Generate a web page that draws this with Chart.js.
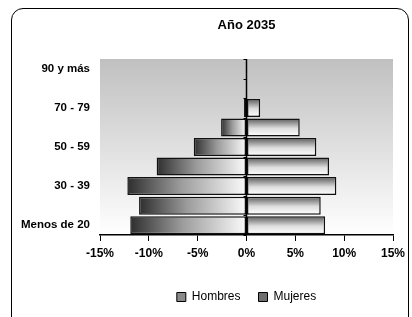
<!DOCTYPE html>
<html>
<head>
<meta charset="utf-8">
<script src="https://cdn.jsdelivr.net/npm/chart.js@4"></script>
<style>
  html, body { margin: 0; padding: 0; background: #fff; overflow: hidden; }
  #wrap { position: relative; width: 412px; height: 317px; }
  #frame { position: absolute; left: 11px; top: 8px; width: 396px; height: 330px;
           border: 1.5px solid #000; border-radius: 12px; pointer-events: none; }
  canvas { position: absolute; left: 0; top: 0; }
</style>
</head>
<body>
<div id="wrap">
  <canvas id="pyramid" width="412" height="317"></canvas>
  <div id="frame"></div>
</div>
<script>
// datos (porcentaje de población por grupo de edad)
const grupos = ['Menos de 20', '20 - 29', '30 - 39', '40 - 49', '50 - 59', '60 - 69', '70 - 79', '80 - 89', '90 y más'];
const hombres = [-11.9, -11.0, -12.2, -9.2, -5.4, -2.6, -0.25, -0.05, 0];
const mujeres = [8.05, 7.6, 9.2, 8.45, 7.15, 5.45, 1.4, 0.05, 0];
const ticksX = [-15, -10, -5, 0, 5, 10, 15];

const FONT = "'Liberation Sans', Arial, sans-serif";
const legendFill = ['#8a8a8a', '#6e6e6e'];

function hombresFill(c) {
    const chart = c.chart;
    const x = chart.scales.x;
    if (!x || !chart.chartArea || c.raw === undefined) return legendFill[0];
    const x0 = x.getPixelForValue(c.raw);
    const x1 = x.getPixelForValue(0);
    if (x1 - x0 < 1) return '#777';
    const g = chart.ctx.createLinearGradient(x0, 0, x1, 0);
    g.addColorStop(0, '#2e2e2e');
    g.addColorStop(0.45, '#9c9c9c');
    g.addColorStop(1, '#fbfbfb');
    return g;
}

function mujeresFill(c) {
    const chart = c.chart;
    const y = chart.scales.y;
    if (!y || !chart.chartArea || c.dataIndex === undefined) return legendFill[1];
    const yc = y.getPixelForValue(c.dataIndex);
    const h = Math.abs(y.getPixelForValue(1) - y.getPixelForValue(0)) * 0.92;
    const g = chart.ctx.createLinearGradient(0, yc - h / 2, 0, yc + h / 2);
    g.addColorStop(0, '#5a5a5a');
    g.addColorStop(0.55, '#dedede');
    g.addColorStop(1, '#ffffff');
    return g;
}

// fondo degradado del área de trazado
const plotBackground = {
    id: 'plotBackground',
    beforeDraw(chart) {
        const { ctx, chartArea: a } = chart;
        const g = ctx.createLinearGradient(0, a.top, 0, a.bottom);
        g.addColorStop(0, '#c0c0c0');
        g.addColorStop(1, '#ffffff');
        ctx.save();
        ctx.fillStyle = g;
        ctx.fillRect(a.left, a.top, a.right - a.left, a.bottom - a.top);
        ctx.restore();
    }
};

// pequeñas marcas sobre el eje central
const centreTicks = {
    id: 'centreTicks',
    afterDatasetsDraw(chart) {
        const { ctx, scales: { x, y } } = chart;
        const x0 = x.getPixelForValue(0);
        const step = Math.abs(y.getPixelForValue(1) - y.getPixelForValue(0));
        ctx.save();
        ctx.strokeStyle = '#000';
        ctx.lineWidth = 1;
        for (let i = 0; i <= grupos.length; i++) {
            const yy = Math.round(y.getPixelForValue(i) + step / 2) + 0.5;
            ctx.beginPath();
            ctx.moveTo(x0 - 3, yy);
            ctx.lineTo(x0, yy);
            ctx.stroke();
        }
        ctx.beginPath();
        ctx.lineWidth = 1.5;
        ctx.moveTo(x0, chart.chartArea.top);
        ctx.lineTo(x0, chart.chartArea.bottom);
        ctx.stroke();
        ctx.restore();
    }
};

new Chart(document.getElementById('pyramid'), {
    type: 'bar',
    data: {
        labels: grupos,
        datasets: [
            { label: 'Hombres', data: hombres, backgroundColor: hombresFill },
            { label: 'Mujeres', data: mujeres, backgroundColor: mujeresFill }
        ]
    },
    options: {
        indexAxis: 'y',
        responsive: false,
        animation: false,
        maintainAspectRatio: false,
        layout: { padding: { left: 0, right: 19, top: 0, bottom: 4 } },
        datasets: {
            bar: {
                barPercentage: 1,
                categoryPercentage: 0.92,
                borderColor: '#111',
                borderWidth: 1.5,
                borderSkipped: false
            }
        },
        plugins: {
            title: {
                display: true,
                fullSize: false,
                text: 'Año 2035',
                color: '#000',
                font: { family: FONT, size: 13, weight: 'bold' },
                padding: { top: 18, bottom: 25.4 }
            },
            legend: {
                position: 'bottom',
                fullSize: false,
                labels: {
                    color: '#000',
                    font: { family: FONT, size: 12 },
                    boxWidth: 9,
                    boxHeight: 9,
                    padding: 18,
                    generateLabels: chart => {
                        const items = Chart.defaults.plugins.legend.labels.generateLabels(chart);
                        items.forEach((it, i) => {
                            it.fillStyle = legendFill[i];
                            it.strokeStyle = '#000';
                            it.lineWidth = 1;
                        });
                        return items;
                    }
                }
            },
            tooltip: { enabled: false }
        },
        scales: {
            x: {
                stacked: true,
                min: ticksX[0],
                max: ticksX[ticksX.length - 1],
                afterBuildTicks: s => { s.ticks = ticksX.map(v => ({ value: v })); },
                afterFit: s => { s.height = 38; },
                border: { display: true, color: '#000', width: 1.5 },
                grid: {
                    drawOnChartArea: false,
                    drawTicks: true,
                    tickLength: 6,
                    tickColor: '#000'
                },
                ticks: {
                    color: '#000',
                    padding: 5,
                    maxRotation: 0,
                    font: { family: FONT, size: 12, weight: 'bold' },
                    callback: v => v + '%'
                }
            },
            y: {
                stacked: true,
                reverse: true,
                afterFit: s => { s.width = 100; },
                border: { display: false },
                grid: { display: false },
                ticks: {
                    color: '#000',
                    padding: 2,
                    autoSkip: false,
                    font: { family: FONT, size: 11.5, weight: 'bold' },
                    callback: function (v, i) { return i % 2 === 0 ? this.getLabelForValue(v) : ''; }
                }
            }
        }
    },
    plugins: [plotBackground, centreTicks]
});
</script>
</body>
</html>
